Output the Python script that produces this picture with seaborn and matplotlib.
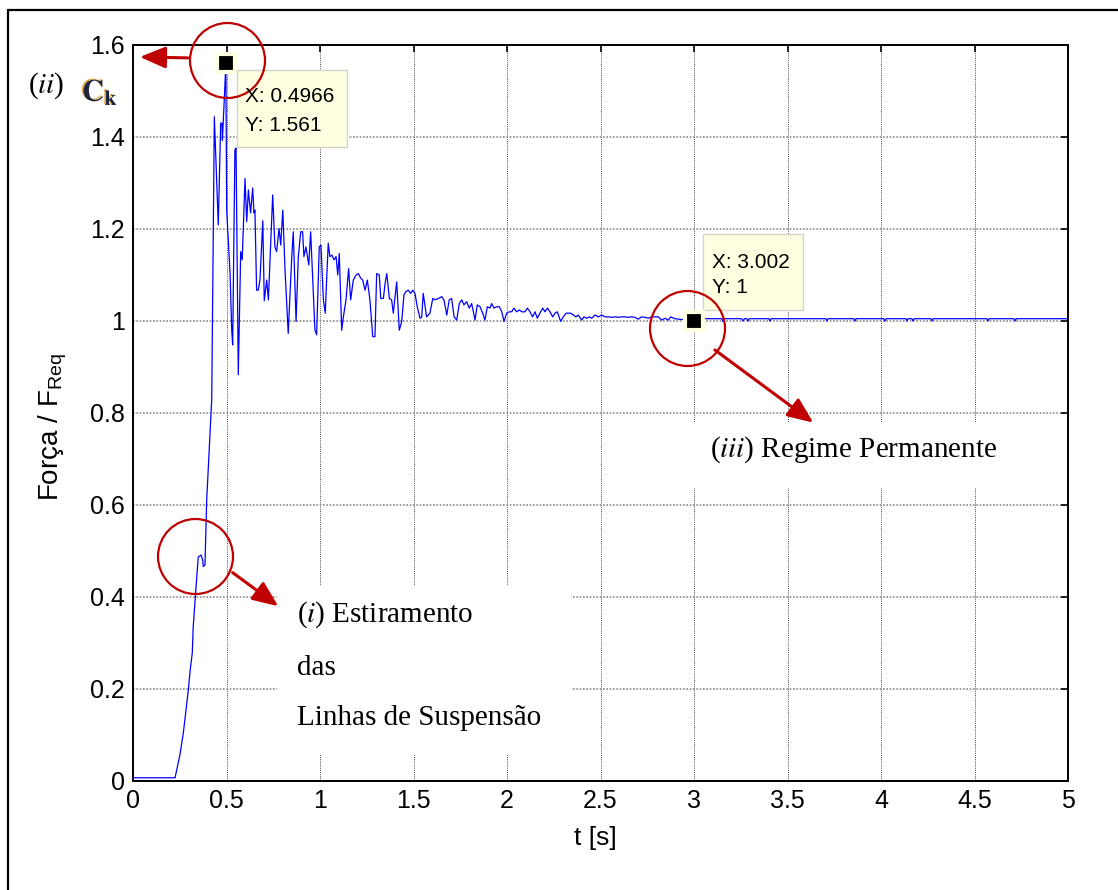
import numpy as np
import matplotlib
matplotlib.use("Agg")
import matplotlib.pyplot as plt
import seaborn as sns
from matplotlib.patches import Rectangle
from matplotlib.lines import Line2D
import matplotlib.patheffects as pe

# Time base [s] and normalised force F / F_Req
t_s = [
    0.000, 0.225, 0.251, 0.269, 0.296, 0.305, 0.317, 0.322, 0.332, 0.341,
    0.349, 0.364, 0.373, 0.376, 0.385, 0.394, 0.421, 0.435, 0.456, 0.469,
    0.476, 0.478, 0.488, 0.4966, 0.501, 0.519, 0.528, 0.533, 0.545, 0.551,
    0.563, 0.576, 0.584, 0.599, 0.608, 0.617, 0.622, 0.629, 0.640, 0.647,
    0.652, 0.661, 0.670, 0.679, 0.694, 0.702, 0.715, 0.724, 0.747, 0.759,
    0.768, 0.781, 0.790, 0.801, 0.813, 0.830, 0.849, 0.857, 0.872, 0.884,
    0.897, 0.907, 0.914, 0.925, 0.940, 0.950, 0.973, 0.982, 0.996, 1.005,
    1.018, 1.028, 1.044, 1.053, 1.064, 1.075, 1.086, 1.095, 1.103, 1.116,
    1.125, 1.139, 1.153, 1.164, 1.178, 1.193, 1.205, 1.218, 1.228, 1.241,
    1.253, 1.267, 1.282, 1.294, 1.303, 1.317, 1.325, 1.339, 1.348, 1.357,
    1.371, 1.383, 1.392, 1.410, 1.424, 1.437, 1.449, 1.460, 1.472, 1.485,
    1.496, 1.508, 1.520, 1.535, 1.544, 1.552, 1.570, 1.588, 1.603, 1.615,
    1.633, 1.651, 1.663, 1.678, 1.691, 1.704, 1.717, 1.731, 1.745, 1.758,
    1.770, 1.784, 1.798, 1.811, 1.829, 1.841, 1.856, 1.870, 1.882, 1.895,
    1.909, 1.918, 1.930, 1.945, 1.959, 1.972, 1.984, 1.998, 2.012, 2.025,
    2.037, 2.052, 2.066, 2.079, 2.096, 2.109, 2.123, 2.137, 2.150, 2.162,
    2.176, 2.191, 2.203, 2.216, 2.230, 2.244, 2.257, 2.269, 2.287, 2.301,
    2.316, 2.328, 2.341, 2.355, 2.369, 2.381, 2.399, 2.412, 2.426, 2.440,
    2.453, 2.471, 2.488, 2.506, 2.524, 2.542, 2.560, 2.578, 2.595, 2.613,
    2.631, 2.649, 2.667, 2.684, 2.702, 2.720, 2.738, 2.756, 2.774, 2.791,
    2.809, 2.827, 2.845, 2.863, 2.875, 2.898, 3.002, 3.020, 3.150, 3.155,
    3.162, 3.255, 3.262, 3.270, 3.283, 3.289, 3.296, 3.400, 3.406, 3.413,
    3.705, 3.711, 3.717, 3.855, 3.861, 3.867, 4.015, 4.021, 4.027, 4.133,
    4.139, 4.145, 4.165, 4.171, 4.177, 4.267, 4.273, 4.279, 4.566, 4.572,
    4.578, 4.711, 4.717, 4.723, 5.000,
]
force_ratio = [
    0.007, 0.007, 0.057, 0.104, 0.198, 0.238, 0.278, 0.335, 0.393, 0.444,
    0.487, 0.491, 0.480, 0.466, 0.470, 0.610, 0.830, 1.444, 1.209, 1.430,
    1.430, 1.393, 1.480, 1.561, 1.241, 1.104, 0.980, 0.948, 1.372, 1.376,
    0.883, 1.151, 1.133, 1.310, 1.216, 1.285, 1.263, 1.235, 1.289, 1.235,
    1.241, 1.067, 1.067, 1.089, 1.218, 1.044, 1.089, 1.046, 1.274, 1.161,
    1.151, 1.201, 1.165, 1.241, 1.111, 0.973, 1.140, 1.194, 0.999, 1.140,
    1.194, 1.194, 1.140, 1.161, 1.122, 1.194, 0.980, 0.970, 1.161, 1.165,
    1.046, 1.017, 1.169, 1.140, 1.143, 1.133, 1.140, 1.100, 1.147, 0.980,
    1.009, 1.046, 1.114, 1.046, 1.089, 1.100, 1.103, 1.093, 1.089, 1.067,
    1.089, 1.046, 0.966, 0.966, 1.103, 1.100, 1.049, 1.049, 1.082, 1.103,
    1.049, 1.046, 1.017, 1.085, 0.980, 0.999, 1.057, 1.064, 1.067, 1.060,
    1.067, 1.060, 1.031, 1.006, 1.009, 1.060, 1.009, 1.017, 1.049, 1.046,
    1.049, 1.053, 1.046, 1.013, 1.046, 1.049, 1.009, 1.002, 1.038, 1.046,
    1.035, 1.042, 1.028, 1.038, 1.002, 1.035, 1.031, 1.017, 1.002, 1.031,
    1.028, 1.038, 1.028, 1.031, 1.031, 1.020, 0.999, 1.017, 1.020, 1.020,
    1.028, 1.020, 1.024, 1.020, 1.020, 1.028, 1.020, 1.009, 1.020, 1.006,
    1.017, 1.028, 1.020, 1.028, 1.020, 1.009, 1.017, 1.020, 0.999, 1.009,
    1.017, 1.017, 1.017, 1.013, 1.009, 1.013, 1.002, 1.009, 1.006, 1.009,
    1.006, 1.013, 1.009, 1.013, 1.009, 1.009, 1.008, 1.009, 1.008, 1.009,
    1.009, 1.008, 1.009, 1.008, 1.004, 1.009, 1.008, 1.006, 1.009, 1.009,
    1.009, 1.002, 1.006, 1.002, 1.009, 1.005, 1.000, 1.005, 1.005, 0.999,
    1.005, 1.005, 1.000, 1.005, 1.005, 1.000, 1.005, 1.005, 1.000, 1.005,
    1.005, 1.000, 1.005, 1.005, 1.000, 1.005, 1.005, 1.000, 1.005, 1.005,
    1.000, 1.005, 1.005, 1.000, 1.005, 1.005, 1.000, 1.005, 1.005, 1.000,
    1.005, 1.005, 1.000, 1.005, 1.005,
]

x_ticks = [0, 0.5, 1, 1.5, 2, 2.5, 3, 3.5, 4, 4.5, 5]
y_ticks = [0, 0.2, 0.4, 0.6, 0.8, 1.0, 1.2, 1.4, 1.6]

# Data-tip points: peak load and steady state
i_peak = int(np.argmax(force_ratio))
i_steady = t_s.index(3.002)

sns.set_theme(style="white")
plt.rcParams["font.family"] = ["Liberation Sans", "DejaVu Sans"]
plt.rcParams["mathtext.fontset"] = "custom"
plt.rcParams["mathtext.rm"] = "Liberation Sans"
for key in ("text.color", "axes.labelcolor", "xtick.color", "ytick.color", "axes.edgecolor"):
    plt.rcParams[key] = "black"

W, H = 1118, 890
fig = plt.figure(figsize=(W / 100, H / 100), dpi=100)
fig.patch.set_facecolor("white")
ax = fig.add_axes([133 / W, 1 - 781 / H, 935 / W, 736 / H])
ax.set_facecolor("white")

# Outer frame of the figure (top and left edges)
fig.add_artist(Line2D([8 / W, 8 / W], [-0.05, 1 - 10 / H], transform=fig.transFigure,
                      color="black", lw=1.6))
fig.add_artist(Line2D([8 / W, 1.05], [1 - 10 / H, 1 - 10 / H], transform=fig.transFigure,
                      color="black", lw=1.6))

sns.lineplot(x=t_s, y=force_ratio, ax=ax, color="#0000ff", linewidth=0.9,
             zorder=3, estimator=None, sort=False)

ax.set_xlim(0, 5)
ax.set_ylim(0, 1.6)
ax.set_xticks(x_ticks)
ax.set_xticklabels([f"{v:g}" for v in x_ticks])
ax.set_yticks(y_ticks)
ax.set_yticklabels([f"{v:g}" for v in y_ticks])
ax.tick_params(direction="in", length=5, width=1.2, top=True, right=True,
               labelsize=18, pad=6, colors="black")

ax.set_axisbelow(True)
ax.xaxis.grid(True, color="#4a4a4a", linestyle=(0, (1, 1.2)), linewidth=0.7)
ax.yaxis.grid(True, color="#8a8a8a", linestyle=(0, (1, 1)), linewidth=1.2)
for sp in ax.spines.values():
    sp.set_visible(True)
    sp.set_color("black")
    sp.set_linewidth(1.4)

ax.set_xlabel("t [s]", fontsize=19, color="black")
ax.set_ylabel(r"Força / F$_{\mathrm{Req}}$", fontsize=20, color="black")
ax.xaxis.label.set_va("center")
ax.yaxis.label.set_va("center")
ax.xaxis.set_label_coords(0.494, -(838 - 781) / 736)
ax.yaxis.set_label_coords(-(133 - 53) / 935, (781 - 427) / 736)

red = "#c00000"
serif = "Liberation Serif"

# Annotation text panels (white background hides the grid)
ax.add_patch(Rectangle((0.770, 0.057), 2.342 - 0.770, 0.424 - 0.057,
                       facecolor="white", edgecolor="none", zorder=2))
ax.add_patch(Rectangle((2.925, 0.637), 4.701 - 2.925, 0.780 - 0.637,
                       facecolor="white", edgecolor="none", zorder=2))

txt = dict(family=serif, fontsize=21, color="black", va="center", ha="left", zorder=4)
ax.text(0.877, 0.361, r"($\mathit{i}$) Estiramento", math_fontfamily="stix", **txt)
ax.text(0.877, 0.246, "das", **txt)
ax.text(0.877, 0.137, "Linhas de Suspensão", **txt)
ax.text(3.086, 0.720, r"($\mathit{iii}$) Regime Permanente", math_fontfamily="stix", **txt)

# Peak coefficient label left of the axes
fig.text(28 / W, 1 - 86 / H, r"($\mathit{ii}$)", family=serif, fontsize=21,
         math_fontfamily="stix", color="black", va="center", ha="left")
fig.text(82 / W, 1 - 93 / H, r"$\mathbf{C_k}$", fontsize=22, math_fontfamily="stix",
         color="#1c2440", va="center", ha="left",
         path_effects=[pe.SimplePatchShadow(offset=(-1.2, 0.8), shadow_rgbFace="#e0a030", alpha=0.9),
                       pe.Normal()])

# Red highlight circles
circ_t = [0.501, 0.333, 2.961]
circ_v = [1.567, 0.489, 0.985]
ax.plot(circ_t, circ_v, linestyle="none", marker="o", ms=54, mfc="none",
        mec=red, mew=1.6, clip_on=False, zorder=6)

# Red arrows
arrow_heads = [(0.037, 1.574), (0.777, 0.380), (3.638, 0.779)]
arrow_tails = [(0.294, 1.572), (0.533, 0.453), (3.112, 0.937)]
for tip, tail in zip(arrow_heads, arrow_tails):
    ax.annotate("", xy=tip, xytext=tail, annotation_clip=False,
                arrowprops=dict(arrowstyle="-|>,head_length=1.3,head_width=0.55",
                                color=red, lw=2.2, shrinkA=0, shrinkB=0),
                zorder=6)

# Data tips
tip_boxes = [(0.556, 1.378, 0.588, 0.168), (3.048, 1.024, 0.535, 0.165)]
tip_text_x = [0.599, 3.096]
tip_text_y = [(1.489, 1.426), (1.128, 1.072)]
for k, idx in enumerate([i_peak, i_steady]):
    bx, by, bw, bh = tip_boxes[k]
    ax.add_patch(Rectangle((bx, by), bw, bh, facecolor="#ffffe1", edgecolor="#d4d4c8",
                           lw=1.0, zorder=5, clip_on=False))
    ax.text(tip_text_x[k], tip_text_y[k][0], f"X: {t_s[idx]:.4g}", fontsize=15,
            color="black", va="center", ha="left", zorder=6)
    ax.text(tip_text_x[k], tip_text_y[k][1], f"Y: {force_ratio[idx]:.4g}", fontsize=15,
            color="black", va="center", ha="left", zorder=6)
    ax.plot([t_s[idx]], [force_ratio[idx]], marker="s", ms=13, mfc="black",
            mec="#ffffe1", mew=3, clip_on=False, zorder=7)

fig.savefig("out.png", dpi=100)
